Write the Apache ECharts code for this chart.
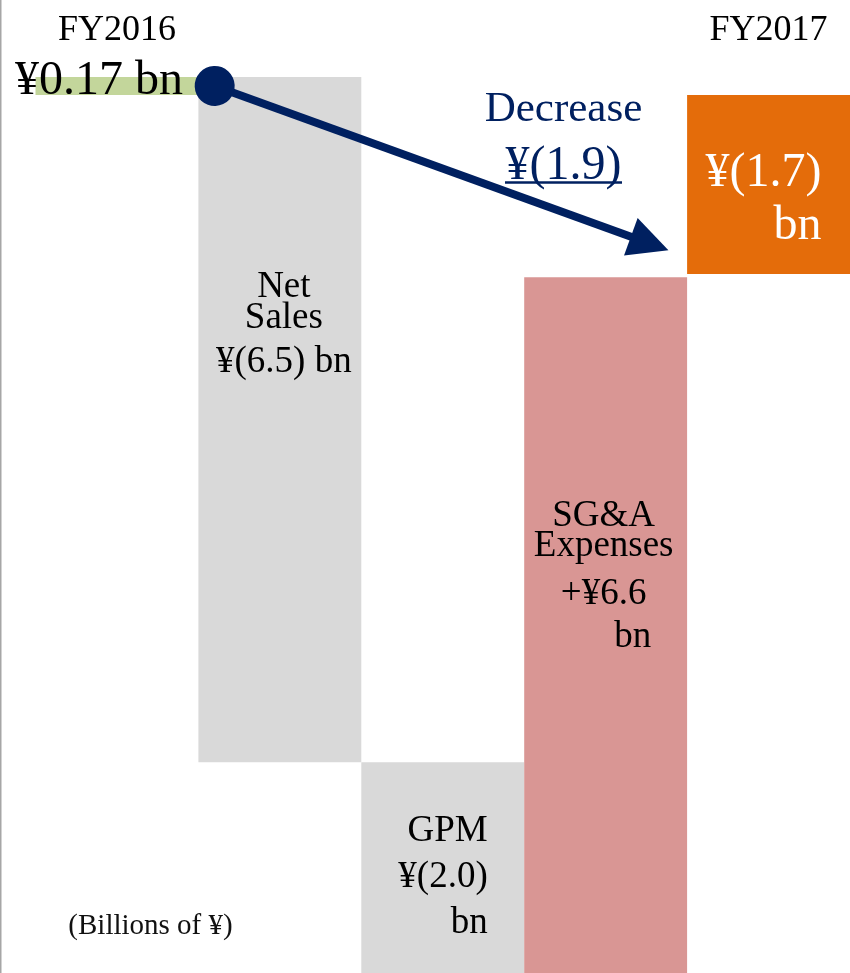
<!DOCTYPE html>
<html>
<head>
<meta charset="utf-8">
<script src="https://cdn.jsdelivr.net/npm/echarts@6/dist/echarts.min.js"></script>
<style>
  html, body { margin: 0; padding: 0; background: #fff; }
  #chart { width: 850px; height: 973px; }
</style>
</head>
<body>
<div id="chart"></div>
<script>
// Operating income bridge, FY2016 -> FY2017 (billions of yen)
const categories = ['FY2016', 'Net Sales', 'GPM', 'SG&A Expenses', 'FY2017'];
const changes = [0.17, -6.5, -2.0, 6.6, -1.7];
const isTotal = [true, false, false, false, true];
const yearLabels = ['FY2016', '', '', '', 'FY2017'];
const decreaseValue = -1.9;
const unitNote = '(Billions of \u00a5)';

const SERIF = "'Liberation Serif', 'Times New Roman', serif";
const NAVY = '#002060';
const barColors = ['#c3d69b', '#d9d9d9', '#d9d9d9', '#d99694', '#e46c0a'];

// floating bases: totals start at zero, changes start where the previous bar ended
const bases = [];
let running = 0;
changes.forEach((v, i) => {
  if (isTotal[i]) { bases.push(0); running = v; }
  else { bases.push(running); running += v; }
});
const lowest = Math.min(...changes.map((v, i) => Math.min(bases[i], bases[i] + v)));

function yen(v, digits, signed) {
  const a = Math.abs(v).toFixed(digits);
  if (v < 0) return '\u00a5(' + a + ')';
  return (signed ? '+' : '') + '\u00a5' + a;
}

const txt = (size, lh, extra) => Object.assign({ fontFamily: SERIF, fontSize: size, lineHeight: lh, color: '#000' }, extra || {});

const labels = [
  {
    show: true, position: 'inside', offset: [-18, -5],
    formatter: '{a|' + yen(changes[0], 2) + ' bn}',
    rich: { a: txt(48, 50) }
  },
  {
    show: true, position: 'inside', offset: [4, -88],
    formatter: '{a|Net}\n{a|Sales}\n{b|' + yen(changes[1], 1) + ' bn}',
    rich: { a: txt(37, 31), b: txt(37, 57) }
  },
  {
    show: true, position: 'inside', offset: [45, 10], align: 'right',
    formatter: '{a|GPM}\n{a|' + yen(changes[2], 1) + '}\n{a|bn}',
    rich: { a: txt(37, 46, { align: 'right' }) }
  },
  {
    show: true, position: 'inside', offset: [-2, -51],
    formatter: '{a|SG&A}\n{a|Expenses}\n{b|' + yen(changes[3], 1, true) + '}\n{c|bn}',
    rich: { a: txt(37, 30), b: txt(37, 66), c: txt(37, 20, { padding: [0, 0, 0, 58] }) }
  },
  {
    show: true, position: 'inside', offset: [53, 15], align: 'right',
    formatter: '{a|' + yen(changes[4], 1) + '}\n{a|bn}',
    rich: { a: txt(48, 53, { color: '#fff', align: 'right' }) }
  }
];

// arrow from the FY2016 result to the FY2017 result, in (category position, value) units
const arrowFrom = [0.6, changes[0] / 2];
const arrowTo = [3.27, -1.41];

const chart = echarts.init(document.getElementById('chart'), null, { renderer: 'canvas' });

chart.setOption({
  animation: false,
  backgroundColor: '#fff',
  grid: { left: 35.5, right: -3, top: 0, bottom: 0, containLabel: false },
  xAxis: [
    {
      type: 'category',
      data: categories,
      position: 'top',
      axisLine: { show: false },
      axisTick: { show: false },
      splitLine: { show: false },
      axisLabel: {
        inside: true, interval: 0, margin: 13,
        fontFamily: SERIF, fontSize: 36, color: '#000',
        formatter: (v, i) => yearLabels[i]
      }
    },
    { type: 'value', min: -0.5, max: 4.5, show: false }
  ],
  yAxis: {
    type: 'value', min: lowest, max: 0.9, show: false,
    splitLine: { show: false }
  },
  series: [
    {
      name: 'base', type: 'bar', stack: 'bridge', stackStrategy: 'all',
      barCategoryGap: '0%', silent: true,
      itemStyle: { color: 'transparent' },
      data: bases
    },
    {
      name: 'change', type: 'bar', stack: 'bridge', stackStrategy: 'all',
      barCategoryGap: '0%', silent: true,
      data: changes.map((v, i) => ({ value: v, itemStyle: { color: barColors[i] }, label: labels[i] }))
    },
    {
      name: 'arrow', type: 'line', xAxisIndex: 1, yAxisIndex: 0, silent: true,
      data: [arrowFrom, arrowTo], symbol: 'none', lineStyle: { opacity: 0 }, z: 5,
      markLine: {
        silent: true, animation: false,
        symbol: ['circle', 'triangle'], symbolSize: [40, 40],
        label: { show: false },
        lineStyle: { color: NAVY, width: 8, type: 'solid' },
        emphasis: { disabled: true },
        data: [[{ coord: arrowFrom }, { coord: arrowTo }]]
      }
    }
  ],
  graphic: [
    { type: 'rect', shape: { x: 0, y: 0, width: 1.5, height: 973 }, style: { fill: '#a6a6a6' }, z: 100 },
    {
      type: 'text', x: 563.5, y: 110, z: 100,
      style: { text: 'Decrease', fontFamily: SERIF, fontSize: 43, fill: NAVY, align: 'center', verticalAlign: 'middle', textAlign: 'center', textVerticalAlign: 'middle' }
    },
    {
      type: 'text', x: 563.5, y: 166, z: 100,
      style: { text: yen(decreaseValue, 1), fontFamily: SERIF, fontSize: 48, fill: NAVY, align: 'center', verticalAlign: 'middle', textAlign: 'center', textVerticalAlign: 'middle' }
    },
    { type: 'line', z: 100, shape: { x1: 505, y1: 182.5, x2: 622, y2: 182.5 }, style: { stroke: NAVY, lineWidth: 2.7 } },
    {
      type: 'text', x: 150.5, y: 926, z: 100,
      style: { text: unitNote, fontFamily: SERIF, fontSize: 29, fill: '#111', align: 'center', verticalAlign: 'middle', textAlign: 'center', textVerticalAlign: 'middle' }
    }
  ]
});
</script>
</body>
</html>
